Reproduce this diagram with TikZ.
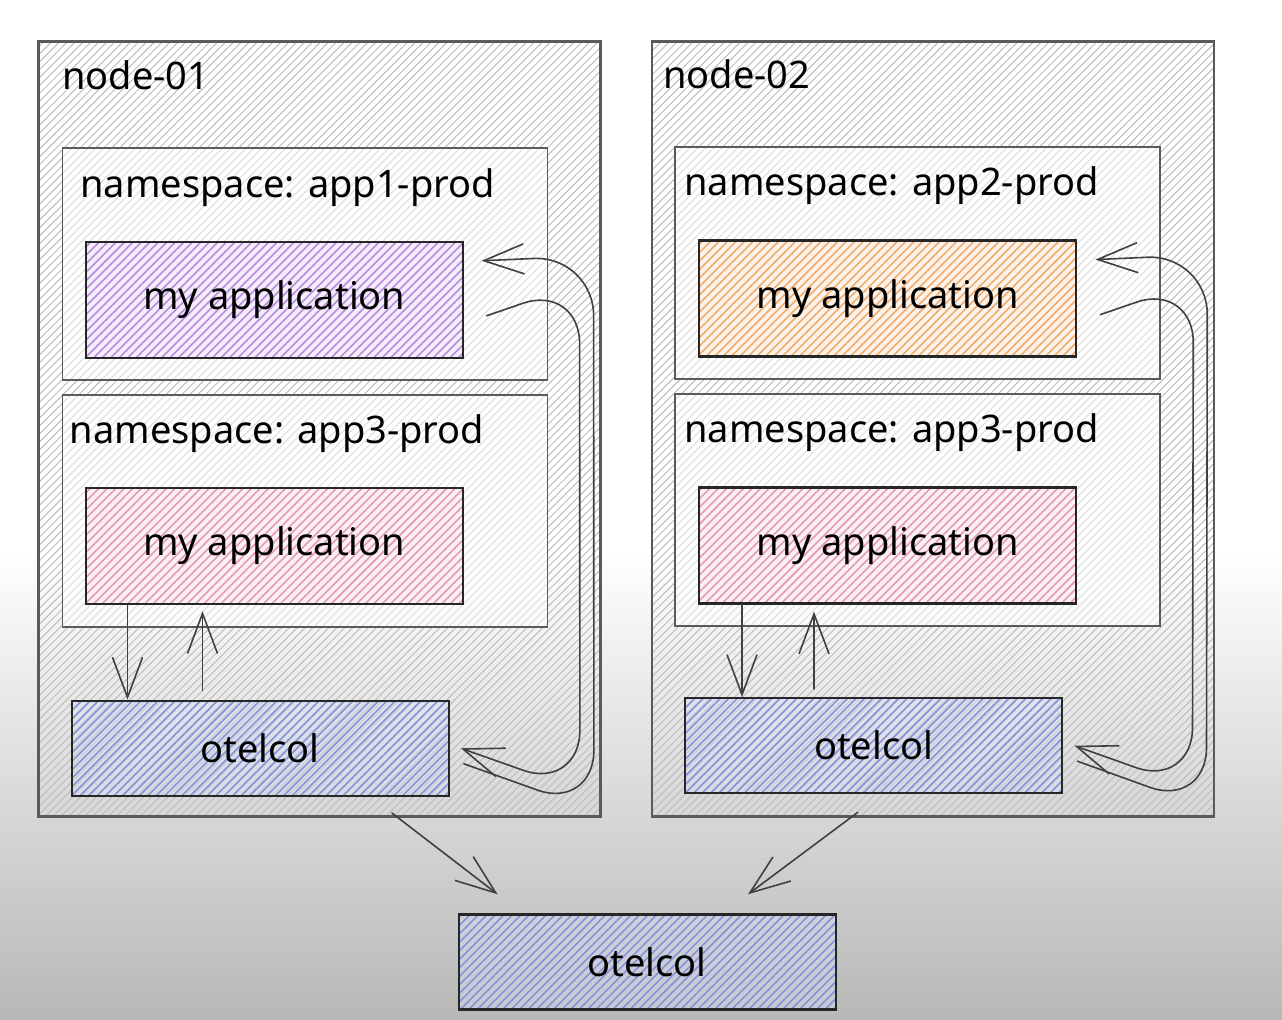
\documentclass[tikz,border=0pt]{standalone}
\usepackage{fontspec}
\setmainfont{Noto Sans}
\usetikzlibrary{positioning,arrows.meta,calc,patterns.meta}

\definecolor{hatchgray}{HTML}{BDBDBD}
\definecolor{edgegray}{HTML}{5A5A5A}
\definecolor{appviolet}{HTML}{B98AE0}
\definecolor{apporange}{HTML}{F0AC70}
\definecolor{apppink}{HTML}{E59CAE}
\definecolor{otelblue}{HTML}{8593D8}

\begin{document}
\begin{tikzpicture}[
    hostbox/.style={rectangle, draw=edgegray, line width=1.1pt, minimum width=281pt, minimum height=387.5pt, pattern={Lines[angle=45,distance=2.8pt,line width=0.5pt]}, pattern color=hatchgray},
    nsbox/.style={rectangle, draw=edgegray, line width=0.9pt, minimum width=242.5pt, minimum height=116pt, preaction={fill=white, fill opacity=0.75}, pattern={Lines[angle=45,distance=2.8pt,line width=0.4pt]}, pattern color=black!13},
    appbox/.style={rectangle, draw=black!85, line width=1.2pt, minimum width=188.5pt, minimum height=58pt, font=\fontsize{19pt}{23pt}\selectfont, preaction={fill=#1!15}, pattern={Lines[angle=45,distance=3pt,line width=0.8pt]}, pattern color=#1},
    otelbox/.style={rectangle, draw=black!85, line width=1.2pt, minimum width=188.5pt, minimum height=47.5pt, font=\fontsize{19pt}{23pt}\selectfont, preaction={fill=otelblue!30, fill opacity=0.45}, pattern={Lines[angle=45,distance=3pt,line width=0.8pt]}, pattern color=otelblue},
    lbl/.style={inner sep=0pt, font=\fontsize{19pt}{23pt}\selectfont},
    arrow/.style={-{Straight Barb[length=20pt,width=15pt]}, draw=black!75, line width=0.8pt, line cap=round}
]

% --- Background ---
\fill[white] (0,0) rectangle (641pt,-510pt);
\shade[top color=white, bottom color=black!28] (0,-275pt) rectangle (641pt,-510pt);
\useasboundingbox (0,0) rectangle (641pt,-510pt);

% --- Hosts ---
\node[hostbox, anchor=north west] (node01) at (19pt,-20.5pt) {};
\node[hostbox, right=25pt of node01] (node02) {};
\node[lbl, below right=9.5pt and 12pt of node01.north west] (lbl01) {node-01};
\node[lbl, below right=9.5pt and 6pt of node02.north west] (lbl02) {node-02};

% --- node-01 ---
\node[nsbox, below right=53.5pt and 12pt of node01.north west] (ns1) {};
\node[lbl, below right=10pt and 9pt of ns1.north west] (ns1lbl) {namespace: app1-prod};
\node[appbox=appviolet, below right=46.5pt and 11.5pt of ns1.north west] (app1) {my application};

\node[nsbox, below=6.5pt of ns1] (ns3a) {};
\node[lbl, below right=10pt and 4pt of ns3a.north west] (ns3albl) {namespace: app3-prod};
\node[appbox=apppink, below right=46.5pt and 11.5pt of ns3a.north west] (app3a) {my application};

\node[otelbox, below right=36pt and 4.5pt of ns3a.south west] (otel1) {otelcol};

% --- node-02 ---
\node[nsbox, below right=53pt and 11.5pt of node02.north west] (ns2) {};
\node[lbl, below right=10pt and 5pt of ns2.north west] (ns2lbl) {namespace: app2-prod};
\node[appbox=apporange, below right=46.5pt and 12pt of ns2.north west] (app2) {my application};

\node[nsbox, below=6.5pt of ns2] (ns3b) {};
\node[lbl, below right=10pt and 5pt of ns3b.north west] (ns3blbl) {namespace: app3-prod};
\node[appbox=apppink, below right=46.5pt and 12pt of ns3b.north west] (app3b) {my application};

\node[otelbox, below right=35pt and 5pt of ns3b.south west] (otel2) {otelcol};

% --- Gateway ---
\coordinate (mid) at ($(node01.south)!0.5!(node02.south)$);
\node[otelbox, below=48pt of mid, xshift=10.5pt] (otelc) {otelcol};

% --- App <-> collector ---
\draw[arrow] ([xshift=21.5pt]app3a.south west) -- ([xshift=21.5pt]app3a.south west |- otel1.north);
\draw[arrow] ($(app3a.south west |- otel1.north)+(59pt,4.5pt)$) -- ($(app3a.south west)+(59pt,-3pt)$);
\draw[arrow] ([xshift=22pt]app3b.south west) -- ([xshift=22pt]app3b.south west |- otel2.north);
\draw[arrow] ($(app3b.south west |- otel2.north)+(58pt,4pt)$) -- ($(app3b.south west)+(58pt,-3.5pt)$);

% loops round the right side
\draw[arrow, rounded corners=30pt] ($(app1.east)+(11.5pt,-8pt)$) -- ($(app1.east)+(58pt,8pt)$) -- ($(otel1.east)+(65pt,-21pt)$) -- ($(otel1.east)+(5.5pt,0)$);
\draw[arrow, rounded corners=30pt] ($(otel1.east)+(7pt,-7.75pt)$) -- ($(otel1.east)+(72pt,-31pt)$) -- ($(app1.east)+(65pt,22pt)$) -- ($(app1.east)+(9pt,19.5pt)$);
\draw[arrow, rounded corners=30pt] ($(app2.east)+(11.5pt,-8pt)$) -- ($(app2.east)+(58pt,8pt)$) -- ($(otel2.east)+(64.5pt,-21pt)$) -- ($(otel2.east)+(5.5pt,0)$);
\draw[arrow, rounded corners=30pt] ($(otel2.east)+(7pt,-7.75pt)$) -- ($(otel2.east)+(71.5pt,-31pt)$) -- ($(app2.east)+(65pt,22pt)$) -- ($(app2.east)+(9pt,19.5pt)$);

% --- Collectors -> gateway ---
\draw[arrow] ($(otel1.south east)+(-29pt,-8pt)$) -- ($(otelc.north west)+(20pt,9.5pt)$);
\draw[arrow] ($(otel2.south)+(-8pt,-9pt)$) -- ($(otelc.north east)+(-44.5pt,9.5pt)$);

\end{tikzpicture}
\end{document}
